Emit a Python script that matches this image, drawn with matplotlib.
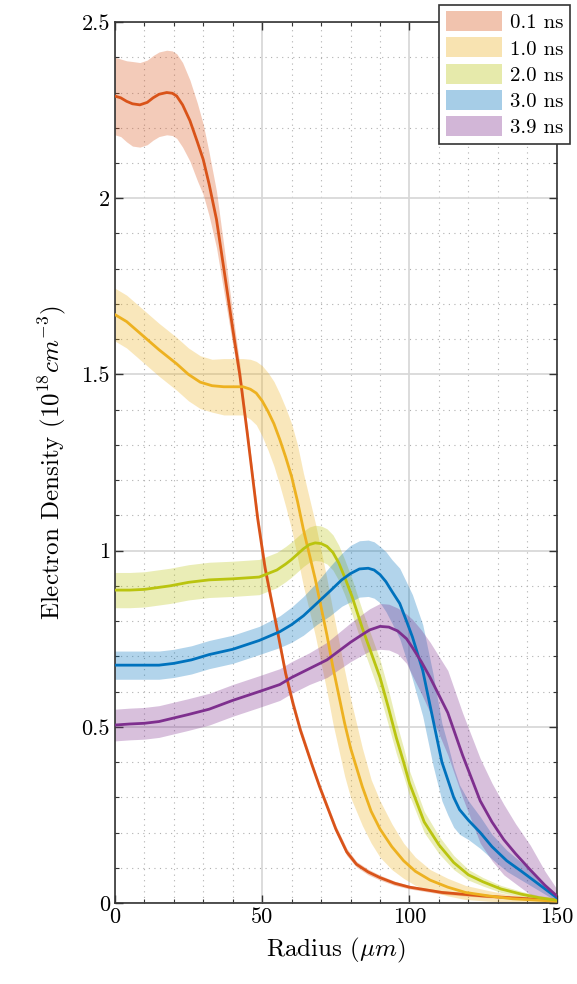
import matplotlib
matplotlib.use('Agg')
import matplotlib.pyplot as plt
from matplotlib.patches import Patch
from matplotlib.ticker import MultipleLocator, FuncFormatter
import numpy as np

plt.rcParams['font.family'] = ['cmr10', 'DejaVu Serif']
plt.rcParams['mathtext.fontset'] = 'cm'
plt.rcParams['axes.unicode_minus'] = False

labels = ['0.1 ns', '1.0 ns', '2.0 ns', '3.0 ns', '3.9 ns']
colors = ['#D95319', '#EDB120', '#BAC40F', '#0072BD', '#7E2F8E']

# 0.1 ns
x_01 = [0, 2, 4, 6, 8.5, 11, 13, 15, 17.6, 19.5, 21, 23, 25.5, 28, 30, 32, 34.5, 37, 40,
        42.4, 45, 48.5, 51, 55, 58, 60.5, 63, 65, 67, 69.5, 75, 78.7, 82, 86, 90, 95,
        100, 111, 125, 140, 150]
y_01 = [2.29, 2.285, 2.275, 2.268, 2.265, 2.272, 2.285, 2.295, 2.30, 2.298, 2.29, 2.265,
        2.22, 2.16, 2.11, 2.04, 1.94, 1.80, 1.63, 1.50, 1.33, 1.09, 0.95, 0.78, 0.65,
        0.565, 0.49, 0.44, 0.39, 0.33, 0.21, 0.145, 0.11, 0.088, 0.072, 0.056, 0.045,
        0.03, 0.02, 0.012, 0.008]
e_01 = [0.11, 0.11, 0.115, 0.12, 0.12, 0.12, 0.12, 0.12, 0.12, 0.12, 0.12, 0.12, 0.115,
        0.11, 0.10, 0.09, 0.08, 0.065, 0.045, 0.03, 0.02, 0.02, 0.02, 0.015, 0.015,
        0.015, 0.012, 0.012, 0.01, 0.01, 0.01, 0.01, 0.008, 0.008, 0.007, 0.006, 0.005,
        0.005, 0.004, 0.003, 0.003]

# 1.0 ns
x_10 = [0, 4, 9.5, 15, 21, 25, 29, 33, 37, 40, 43.5, 46, 48, 50, 52, 54, 56, 58, 60, 62,
        64, 66, 68, 70, 72, 74, 76, 78, 80, 84, 87, 90, 94, 98, 102, 107, 113, 119, 127,
        135, 150]
y_10 = [1.67, 1.65, 1.61, 1.57, 1.53, 1.50, 1.478, 1.468, 1.465, 1.465, 1.465, 1.458,
        1.447, 1.425, 1.395, 1.36, 1.315, 1.265, 1.21, 1.14, 1.06, 0.99, 0.92, 0.84,
        0.76, 0.67, 0.59, 0.51, 0.44, 0.33, 0.26, 0.21, 0.16, 0.12, 0.09, 0.065, 0.045,
        0.03, 0.02, 0.012, 0.005]
e_10 = [0.075, 0.075, 0.075, 0.075, 0.075, 0.075, 0.075, 0.075, 0.08, 0.08, 0.08, 0.085,
        0.09, 0.10, 0.11, 0.12, 0.13, 0.14, 0.15, 0.16, 0.16, 0.16, 0.16, 0.16, 0.16,
        0.16, 0.155, 0.15, 0.14, 0.11, 0.09, 0.08, 0.065, 0.05, 0.04, 0.03, 0.025, 0.02,
        0.015, 0.01, 0.005]

# 2.0 ns
x_20 = [0, 5, 10, 18.7, 25, 32, 40, 49, 55, 58, 60, 62, 64, 66, 68, 70, 72, 74, 76, 78,
        80.5, 84, 87, 90, 93, 95.5, 98, 100, 105, 110, 115, 120, 125, 131, 138, 144, 150]
y_20 = [0.888, 0.888, 0.89, 0.90, 0.91, 0.917, 0.92, 0.925, 0.945, 0.962, 0.975, 0.99,
        1.005, 1.017, 1.022, 1.02, 1.012, 0.995, 0.965, 0.925, 0.87, 0.78, 0.71, 0.64,
        0.55, 0.47, 0.40, 0.34, 0.23, 0.165, 0.115, 0.08, 0.06, 0.04, 0.025, 0.015, 0.008]
e_20 = [0.05, 0.05, 0.05, 0.05, 0.05, 0.05, 0.05, 0.05, 0.05, 0.05, 0.05, 0.05, 0.05,
        0.05, 0.05, 0.05, 0.05, 0.05, 0.05, 0.05, 0.05, 0.05, 0.05, 0.05, 0.05, 0.045,
        0.04, 0.035, 0.03, 0.025, 0.02, 0.015, 0.012, 0.01, 0.008, 0.006, 0.005]

# 3.0 ns
x_30 = [0, 5, 10, 15, 20, 26, 32, 40, 49, 56, 60, 64, 68.5, 73, 77, 80, 83, 86, 88, 90,
        92, 94, 96.7, 99, 101, 104.5, 108, 111, 113, 115, 117, 120, 124, 128, 133, 138,
        142, 146, 150]
y_30 = [0.675, 0.675, 0.675, 0.675, 0.68, 0.69, 0.705, 0.72, 0.745, 0.77, 0.79, 0.815,
        0.85, 0.885, 0.917, 0.935, 0.948, 0.95, 0.945, 0.932, 0.912, 0.885, 0.85, 0.80,
        0.755, 0.66, 0.52, 0.40, 0.35, 0.30, 0.265, 0.235, 0.20, 0.16, 0.12, 0.09, 0.065,
        0.04, 0.015]
e_30 = [0.04, 0.04, 0.04, 0.04, 0.04, 0.04, 0.04, 0.04, 0.04, 0.045, 0.05, 0.055, 0.06,
        0.07, 0.075, 0.08, 0.08, 0.08, 0.08, 0.08, 0.085, 0.09, 0.10, 0.11, 0.12, 0.13,
        0.13, 0.11, 0.10, 0.085, 0.07, 0.055, 0.045, 0.035, 0.03, 0.025, 0.02, 0.015,
        0.01]

# 3.9 ns
x_39 = [0, 5, 10, 15, 20, 25, 32, 40, 49, 56, 60, 66, 72, 80, 84, 86.5, 90, 93, 96, 99,
        101, 104, 107, 110, 113, 118, 124, 128, 132, 136, 141, 146, 150]
y_39 = [0.505, 0.508, 0.51, 0.515, 0.525, 0.535, 0.55, 0.575, 0.60, 0.62, 0.64, 0.665,
        0.69, 0.74, 0.762, 0.775, 0.785, 0.783, 0.772, 0.75, 0.725, 0.685, 0.64, 0.59,
        0.54, 0.42, 0.29, 0.23, 0.18, 0.14, 0.094, 0.05, 0.02]
e_39 = [0.045, 0.045, 0.045, 0.045, 0.045, 0.045, 0.045, 0.045, 0.045, 0.045, 0.045,
        0.045, 0.05, 0.055, 0.058, 0.06, 0.065, 0.065, 0.065, 0.07, 0.08, 0.09, 0.10,
        0.11, 0.12, 0.12, 0.12, 0.11, 0.10, 0.085, 0.07, 0.04, 0.02]

series = [(x_01, y_01, e_01), (x_10, y_10, e_10), (x_20, y_20, e_20),
          (x_30, y_30, e_30), (x_39, y_39, e_39)]

fig = plt.figure(figsize=(5.77, 9.84), dpi=100)
ax = fig.add_axes([0.199, 0.0823, 0.766, 0.8953])

for (x, y, e), c in zip(series, colors):
    x = np.array(x)
    y = np.array(y)
    e = np.array(e)
    ax.fill_between(x, y - e, y + e, color=c, alpha=0.3, lw=0, zorder=2)
for (x, y, e), c in zip(series, colors):
    ax.plot(x, y, color=c, lw=2, zorder=3, solid_joinstyle='round')

ax.set_xlim(0, 150)
ax.set_ylim(0, 2.5)
ax.xaxis.set_major_locator(MultipleLocator(50))
ax.xaxis.set_minor_locator(MultipleLocator(10))
ax.yaxis.set_major_locator(MultipleLocator(0.5))
ax.yaxis.set_minor_locator(MultipleLocator(0.1))
fmt = FuncFormatter(lambda v, p: '%g' % v)
ax.xaxis.set_major_formatter(fmt)
ax.yaxis.set_major_formatter(fmt)

ax.grid(which='major', color='#d6d6d6', lw=1.2, ls='-', zorder=0)
ax.grid(which='minor', color='#b0b0b0', lw=0.8, ls=(0, (1, 4)), zorder=0)
ax.set_axisbelow(True)

ax.tick_params(which='both', direction='in', top=True, right=True, labelsize=16,
               color='#333333')
ax.tick_params(which='major', length=6, width=1)
ax.tick_params(which='minor', length=3, width=0.8)
for s in ax.spines.values():
    s.set_linewidth(1.2)
    s.set_color('#333333')

ax.set_xlabel(r'Radius ($\mu m$)', fontsize=18, labelpad=6)
ax.set_ylabel(r'Electron Density ($10^{18} cm^{-3}$)', fontsize=18, labelpad=10)

handles = [Patch(facecolor=c, alpha=0.35, edgecolor='none') for c in colors]
leg = fig.legend(handles, labels, loc='upper right', bbox_to_anchor=(0.988, 0.995),
                 fontsize=15, frameon=True, fancybox=False, framealpha=1,
                 edgecolor='#333333', handlelength=2.7, handleheight=1.1,
                 labelspacing=0.25, handletextpad=0.4, borderpad=0.3,
                 borderaxespad=0)
leg.get_frame().set_linewidth(1.2)

fig.savefig('out.png', dpi=100)
